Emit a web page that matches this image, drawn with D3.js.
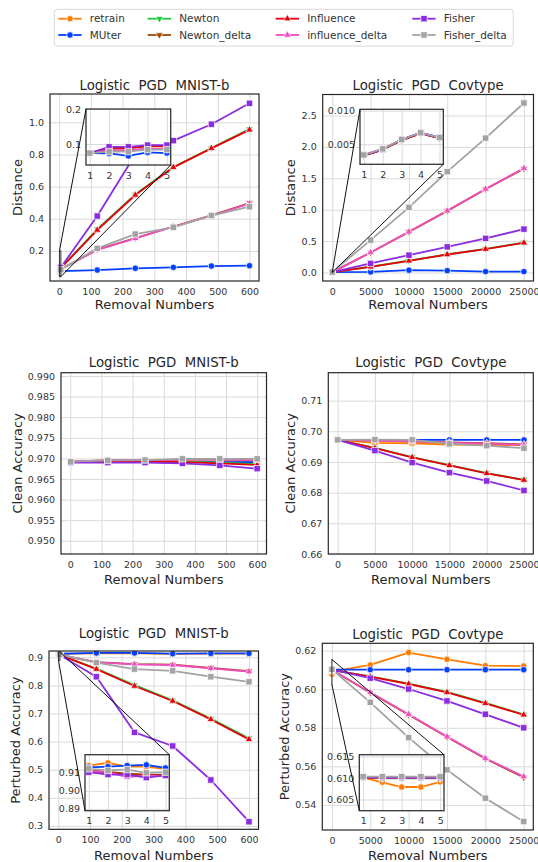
<!DOCTYPE html>
<html>
<head>
<meta charset="utf-8">
<script src="https://cdn.jsdelivr.net/npm/d3@7/dist/d3.min.js"></script>
<style>
  body { margin: 0; background: #ffffff; }
  svg text { font-family: "DejaVu Sans", sans-serif; fill: #262626; }
  .tick line { stroke: #dadada; stroke-width: 1; }
  .tick text { font-size: 9.5px; fill: #333333; }
</style>
</head>
<body>
<div id="chart"></div>
<script>
// methods, in plotting order (later ones drawn on top)
const methods = ["retrain", "MUter", "Newton", "Newton_delta", "Influence", "influence_delta", "Fisher", "Fisher_delta"];
const methodColors = ["#ff7c00", "#023eff", "#1ac938", "#9f4800", "#e8000b", "#f14cc1", "#8b2be2", "#a3a3a3"];

// removal numbers (first five are the ones shown in the zoom boxes)
const mnistSteps = [1, 2, 3, 4, 5, 120, 240, 360, 480, 600];
const covSteps = [1, 2, 3, 4, 5, 5000, 10000, 15000, 20000, 25000];
const mnistCleanSteps = [1, 120, 240, 360, 480, 600];
const covCleanSteps = [1, 5000, 10000, 15000, 20000, 25000];

// tick labels
const mnistTicks = [0, 100, 200, 300, 400, 500, 600];
const covTicks = [0, 5000, 10000, 15000, 20000, 25000];
const insetTicks = [1, 2, 3, 4, 5];
const distMnistTicks = [0.2, 0.4, 0.6, 0.8, 1.0];
const distCovTicks = [0, 0.5, 1.0, 1.5, 2.0, 2.5];
const cleanMnistTicks = [0.950, 0.955, 0.960, 0.965, 0.970, 0.975, 0.980, 0.985, 0.990];
const cleanCovTicks = [0.66, 0.67, 0.68, 0.69, 0.70, 0.71];
const pertMnistTicks = [0.3, 0.4, 0.5, 0.6, 0.7, 0.8, 0.9];
const pertCovTicks = [0.54, 0.56, 0.58, 0.60, 0.62];

// Distance, MNIST-b (one row per method, same order as methods)
const distMnist = [
    null,
    [0.074, 0.073, 0.066, 0.076, 0.074, 0.081, 0.092, 0.098, 0.106, 0.108],
    [0.074, 0.089, 0.089, 0.094, 0.094, 0.335, 0.552, 0.722, 0.840, 0.958],
    [0.074, 0.082, 0.082, 0.086, 0.086, 0.208, 0.280, 0.352, 0.421, 0.498],
    [0.074, 0.088, 0.088, 0.093, 0.093, 0.330, 0.548, 0.720, 0.838, 0.953],
    [0.074, 0.082, 0.082, 0.086, 0.086, 0.206, 0.278, 0.351, 0.420, 0.494],
    [0.074, 0.092, 0.092, 0.097, 0.097, 0.417, 0.800, 0.886, 0.988, 1.118],
    [0.074, 0.078, 0.078, 0.084, 0.084, 0.216, 0.305, 0.347, 0.420, 0.475]
];

// Distance, Covtype
const distCov = [
    null,
    [0.0034, 0.0042, 0.0057, 0.0067, 0.0060, 0.010, 0.037, 0.030, 0.015, 0.015],
    [0.0033, 0.0042, 0.0056, 0.0066, 0.0059, 0.092, 0.188, 0.289, 0.375, 0.477],
    [0.0033, 0.0042, 0.0056, 0.0066, 0.0059, 0.318, 0.647, 0.982, 1.328, 1.655],
    [0.0033, 0.0042, 0.0056, 0.0066, 0.0059, 0.090, 0.186, 0.287, 0.372, 0.473],
    [0.0034, 0.0043, 0.0057, 0.0067, 0.0060, 0.319, 0.648, 0.983, 1.330, 1.660],
    [0.0034, 0.0042, 0.0057, 0.0067, 0.0060, 0.144, 0.276, 0.409, 0.543, 0.691],
    [0.0034, 0.0043, 0.0057, 0.0067, 0.0060, 0.516, 1.037, 1.606, 2.140, 2.700]
];

// Clean accuracy, MNIST-b
const cleanMnist = [
    [0.9691, 0.9691, 0.9691, 0.9691, 0.9691, 0.9691],
    [0.9691, 0.9691, 0.9691, 0.9691, 0.9691, 0.9691],
    [0.9692, 0.9693, 0.9693, 0.9692, 0.9690, 0.9686],
    [0.9693, 0.9695, 0.9696, 0.9697, 0.9697, 0.9696],
    [0.9692, 0.9693, 0.9693, 0.9691, 0.9688, 0.9684],
    [0.9693, 0.9695, 0.9696, 0.9697, 0.9697, 0.9696],
    [0.9690, 0.9690, 0.9690, 0.9688, 0.9683, 0.9675],
    [0.9692, 0.9695, 0.9696, 0.9699, 0.9699, 0.9699]
];

// Clean accuracy, Covtype
const cleanCov = [
    [0.6972, 0.6962, 0.6961, 0.6957, 0.6956, 0.6955],
    [0.6972, 0.6972, 0.6972, 0.6972, 0.6972, 0.6972],
    [0.6972, 0.6946, 0.6916, 0.6890, 0.6864, 0.6842],
    [0.6972, 0.6970, 0.6967, 0.6964, 0.6961, 0.6957],
    [0.6972, 0.6945, 0.6915, 0.6889, 0.6863, 0.6841],
    [0.6972, 0.6970, 0.6967, 0.6963, 0.6960, 0.6956],
    [0.6972, 0.6937, 0.6898, 0.6865, 0.6838, 0.6807],
    [0.6972, 0.6973, 0.6972, 0.6959, 0.6953, 0.6945]
];

// Perturbed accuracy, MNIST-b
const pertMnist = [
    [0.9140, 0.9155, 0.9134, 0.9134, 0.9120, 0.914, 0.914, 0.912, 0.913, 0.913],
    [0.9130, 0.9134, 0.9140, 0.9144, 0.9127, 0.9155, 0.9155, 0.913, 0.914, 0.914],
    [0.9112, 0.9100, 0.9090, 0.9088, 0.9086, 0.860, 0.801, 0.747, 0.682, 0.612],
    [0.9113, 0.9105, 0.9095, 0.9090, 0.9088, 0.883, 0.876, 0.874, 0.862, 0.851],
    [0.9110, 0.9102, 0.9085, 0.9085, 0.9085, 0.858, 0.798, 0.7445, 0.679, 0.608],
    [0.9110, 0.9103, 0.9076, 0.9085, 0.9080, 0.882, 0.875, 0.8727, 0.861, 0.849],
    [0.9103, 0.9090, 0.9090, 0.9073, 0.9085, 0.831, 0.633, 0.5845, 0.4635, 0.315],
    [0.9122, 0.9113, 0.9118, 0.9100, 0.9103, 0.881, 0.858, 0.852, 0.831, 0.813]
];

// Perturbed accuracy, Covtype
const pertCov = [
    [0.6101, 0.6090, 0.6079, 0.6079, 0.6091, 0.6126, 0.6190, 0.6155, 0.6122, 0.6120],
    [0.6101, 0.6101, 0.6101, 0.6101, 0.6101, 0.6101, 0.6101, 0.6101, 0.6101, 0.6101],
    [0.6100, 0.6099, 0.6099, 0.6099, 0.6099, 0.6067, 0.6029, 0.5986, 0.5929, 0.5869],
    [0.6101, 0.6100, 0.6100, 0.6100, 0.6100, 0.5982, 0.5868, 0.5752, 0.5640, 0.5543],
    [0.6101, 0.6100, 0.6100, 0.6100, 0.6100, 0.6065, 0.6027, 0.5984, 0.5927, 0.5867],
    [0.6102, 0.6101, 0.6101, 0.6101, 0.6101, 0.5984, 0.5870, 0.5754, 0.5642, 0.5547],
    [0.6102, 0.6101, 0.6101, 0.6101, 0.6101, 0.6057, 0.6001, 0.5939, 0.5870, 0.5800],
    [0.6103, 0.6103, 0.6103, 0.6103, 0.6103, 0.5932, 0.5749, 0.5582, 0.5435, 0.5314]
];

const markerTypes = [d3.symbolCircle, d3.symbolCircle, d3.symbolTriangle, d3.symbolTriangle,
    d3.symbolTriangle, d3.symbolTriangle, d3.symbolSquare, d3.symbolSquare];
const markerSizes = [32, 32, 24, 24, 24, 24, 40, 40];
const markerFlip = [false, false, true, true, false, false, false, false];

const title = "Logistic  PGD  MNIST-b";
const titleCov = "Logistic  PGD  Covtype";

const panels = [
    {id: "tl", box: [50, 94, 259, 281], xDomain: [-29, 630], yDomain: [0.013, 1.176],
        steps: mnistSteps, series: distMnist, xTicks: mnistTicks, yTicks: distMnistTicks, yFormat: ".1f",
        title: title, yLabel: "Distance", yLabelX: 17.3, titleY: 85, xLabelY: 304,
        inset: {box: [86, 109, 170.7, 165], yDomain: [0.04, 0.2], yTicks: [0.1, 0.2], yFormat: ".1f", corners: ["ul", "lr"]}},
    {id: "tr", box: [322.7, 94.5, 533.5, 281], xDomain: [-1250, 26250], yDomain: [-0.135, 2.835],
        steps: covSteps, series: distCov, xTicks: covTicks, yTicks: distCovTicks, yFormat: ".1f",
        title: titleCov, yLabel: "Distance", yLabelX: 290, titleY: 85, xLabelY: 304,
        inset: {box: [360, 109.3, 443.3, 164.3], yDomain: [0.002, 0.0102], yTicks: [0.005, 0.010], yFormat: ".3f", corners: ["ul", "lr"]}},
    {id: "ml", box: [61, 372.7, 266.5, 554], xDomain: [-30, 630], yDomain: [0.9468, 0.9908],
        steps: mnistCleanSteps, series: cleanMnist, xTicks: mnistTicks, yTicks: cleanMnistTicks, yFormat: ".3f",
        title: title, yLabel: "Clean Accuracy", yLabelX: 17.3, titleY: 362.7, xLabelY: 579.5},
    {id: "mr", box: [328.3, 372.7, 533.3, 554], xDomain: [-1250, 26250], yDomain: [0.66, 0.7191],
        steps: covCleanSteps, series: cleanCov, xTicks: covTicks, yTicks: cleanCovTicks, yFormat: ".2f",
        title: titleCov, yLabel: "Clean Accuracy", yLabelX: 290, titleY: 362.7, xLabelY: 579.5},
    {id: "bl", box: [49, 651, 258.5, 829.3], xDomain: [-29, 630], yDomain: [0.288, 0.9225],
        steps: mnistSteps, series: pertMnist, xTicks: mnistTicks, yTicks: pertMnistTicks, yFormat: ".1f",
        title: title, yLabel: "Perturbed Accuracy", yLabelX: 15, titleY: 633, xLabelY: 855,
        inset: {box: [85, 754.7, 169.3, 810.7], yDomain: [0.889, 0.92], yTicks: [0.89, 0.90, 0.91], yFormat: ".2f", corners: ["ur", "ll"]}},
    {id: "br", box: [322.3, 643.3, 533.3, 830], xDomain: [-1250, 26250], yDomain: [0.527, 0.6238],
        steps: covSteps, series: pertCov, xTicks: covTicks, yTicks: pertCovTicks, yFormat: ".2f",
        title: titleCov, yLabel: "Perturbed Accuracy", yLabelX: 284, titleY: 634.3, xLabelY: 855,
        inset: {box: [359.3, 754.7, 444, 810.7], yDomain: [0.6024, 0.6154], yTicks: [0.605, 0.610, 0.615], yFormat: ".3f", corners: ["ur", "ll"]}}
];

function markerPath(i) {
    return d3.symbol().type(markerTypes[i]).size(markerSizes[i])();
}

class LinePanel {
    constructor(parentSvg, config) {
        this.parentSvg = parentSvg;
        this.config = config;
        this.initVis();
    }

    initVis() {
        let vis = this;
        let c = vis.config;
        let [left, top, right, bottom] = c.box;

        vis.x = d3.scaleLinear().domain(c.xDomain).range([left, right]);
        vis.y = d3.scaleLinear().domain(c.yDomain).range([bottom, top]);
        vis.g = vis.parentSvg.append("g").attr("class", "panel");

        // grid + tick labels
        vis.g.append("g")
            .attr("transform", `translate(0, ${bottom})`)
            .call(d3.axisBottom(vis.x).tickValues(c.xTicks).tickSize(-(bottom - top)).tickPadding(7).tickFormat(d3.format("d")))
            .call(g => g.select(".domain").remove());
        vis.g.append("g")
            .attr("transform", `translate(${left}, 0)`)
            .call(d3.axisLeft(vis.y).tickValues(c.yTicks).tickSize(-(right - left)).tickPadding(6).tickFormat(d3.format(c.yFormat)))
            .call(g => g.select(".domain").remove());

        vis.parentSvg.select("defs").append("clipPath").attr("id", "clip-" + c.id)
            .append("rect").attr("x", left).attr("y", top).attr("width", right - left).attr("height", bottom - top);

        vis.drawSeries(vis.g.append("g").attr("clip-path", `url(#clip-${c.id})`), vis.x, vis.y, c.steps.length);

        vis.g.append("rect")
            .attr("x", left).attr("y", top).attr("width", right - left).attr("height", bottom - top)
            .attr("fill", "none").attr("stroke", "#262626").attr("stroke-width", 1.2);

        // labels
        vis.g.append("text").attr("x", (left + right) / 2).attr("y", c.titleY).attr("dy", "0.35em")
            .attr("text-anchor", "middle").style("font-size", "13.3px").style("white-space", "pre").text(c.title);
        vis.g.append("text").attr("x", (left + right) / 2).attr("y", c.xLabelY).attr("dy", "0.35em")
            .attr("text-anchor", "middle").style("font-size", "13px").text("Removal Numbers");
        vis.g.append("text")
            .attr("transform", `translate(${c.yLabelX}, ${(top + bottom) / 2}) rotate(-90)`)
            .attr("dy", "0.35em").attr("text-anchor", "middle").style("font-size", "13px").text(c.yLabel);

        if (c.inset) vis.drawInset();
    }

    drawSeries(g, xs, ys, count) {
        let vis = this;
        let c = vis.config;
        let line = d3.line().x(d => xs(d[0])).y(d => ys(d[1]));

        c.series.forEach(function(values, i) {
            if (!values) return;
            let pts = c.steps.slice(0, count).map((s, j) => [s, values[j]]);
            g.append("path")
                .attr("d", line(pts))
                .attr("fill", "none")
                .attr("stroke", methodColors[i])
                .attr("stroke-width", 1.8)
                .attr("stroke-linejoin", "round");
            g.selectAll(null)
                .data(pts)
                .enter()
                .append("path")
                .attr("d", markerPath(i))
                .attr("transform", d => `translate(${xs(d[0])}, ${ys(d[1])})` + (markerFlip[i] ? " rotate(180)" : ""))
                .attr("fill", methodColors[i])
                .attr("stroke", "#ffffff")
                .attr("stroke-width", 0.7);
        });
    }

    drawInset() {
        let vis = this;
        let c = vis.config;
        let ins = c.inset;
        let [left, top, right, bottom] = ins.box;

        let xi = d3.scaleLinear().domain([0.8, 5.2]).range([left, right]);
        let yi = d3.scaleLinear().domain(ins.yDomain).range([bottom, top]);

        // zoomed region in the parent axes
        let rx0 = vis.x(0.8), rx1 = vis.x(5.2);
        let ry0 = vis.y(ins.yDomain[1]), ry1 = vis.y(ins.yDomain[0]);
        vis.g.append("rect")
            .attr("x", rx0).attr("y", ry0).attr("width", rx1 - rx0).attr("height", ry1 - ry0)
            .attr("fill", "none").attr("stroke", "#333333").attr("stroke-width", 1);

        let ig = vis.g.append("g").attr("class", "inset");
        ig.append("rect")
            .attr("x", left).attr("y", top).attr("width", right - left).attr("height", bottom - top)
            .attr("fill", "#ffffff");

        ig.append("g")
            .attr("transform", `translate(0, ${bottom})`)
            .call(d3.axisBottom(xi).tickValues(insetTicks).tickSize(-(bottom - top)).tickPadding(7).tickFormat(d3.format("d")))
            .call(g => g.select(".domain").remove());
        ig.append("g")
            .attr("transform", `translate(${left}, 0)`)
            .call(d3.axisLeft(yi).tickValues(ins.yTicks).tickSize(-(right - left)).tickPadding(5).tickFormat(d3.format(ins.yFormat)))
            .call(g => g.select(".domain").remove());

        vis.parentSvg.select("defs").append("clipPath").attr("id", "clip-inset-" + c.id)
            .append("rect").attr("x", left).attr("y", top).attr("width", right - left).attr("height", bottom - top);

        vis.drawSeries(ig.append("g").attr("clip-path", `url(#clip-inset-${c.id})`), xi, yi, 5);

        ig.append("rect")
            .attr("x", left).attr("y", top).attr("width", right - left).attr("height", bottom - top)
            .attr("fill", "none").attr("stroke", "#333333").attr("stroke-width", 1.3);

        // connector lines from inset corners to the zoomed region
        let insetCorner = {ul: [left, top], ur: [right, top], ll: [left, bottom], lr: [right, bottom]};
        let regionCorner = {ul: [rx0, ry0], ur: [rx1, ry0], ll: [rx0, ry1], lr: [rx1, ry1]};
        ins.corners.forEach(function(k) {
            ig.append("line")
                .attr("x1", insetCorner[k][0]).attr("y1", insetCorner[k][1])
                .attr("x2", regionCorner[k][0]).attr("y2", regionCorner[k][1])
                .attr("stroke", "#111111").attr("stroke-width", 1);
        });
    }
}

const svg = d3.select("#chart").append("svg")
    .attr("width", 538)
    .attr("height", 862);
svg.append("defs");

panels.forEach(p => new LinePanel(svg, p));

// legend
const legend = svg.append("g").attr("class", "legend");
legend.append("rect")
    .attr("x", 54.3).attr("y", 9.3).attr("width", 459).attr("height", 36.7)
    .attr("rx", 3).attr("fill", "#ffffff").attr("stroke", "#d4d4d4").attr("stroke-width", 0.9);

const legendColX = [58.3, 147.7, 275.7, 412.3];
const legendRowY = [18.7, 35];
methods.forEach(function(m, i) {
    let hx = legendColX[Math.floor(i / 2)];
    let hy = legendRowY[i % 2];
    legend.append("line")
        .attr("x1", hx).attr("x2", hx + 23.3).attr("y1", hy).attr("y2", hy)
        .attr("stroke", methodColors[i]).attr("stroke-width", 1.8);
    legend.append("path")
        .attr("d", markerPath(i))
        .attr("transform", `translate(${hx + 11.7}, ${hy})` + (markerFlip[i] ? " rotate(180)" : ""))
        .attr("fill", methodColors[i]).attr("stroke", "#ffffff").attr("stroke-width", 0.7);
    legend.append("text")
        .attr("x", hx + 31.5).attr("y", hy).attr("dy", "0.35em")
        .style("font-size", "10.5px").style("fill", "#333333")
        .text(m);
});
</script>
</body>
</html>
